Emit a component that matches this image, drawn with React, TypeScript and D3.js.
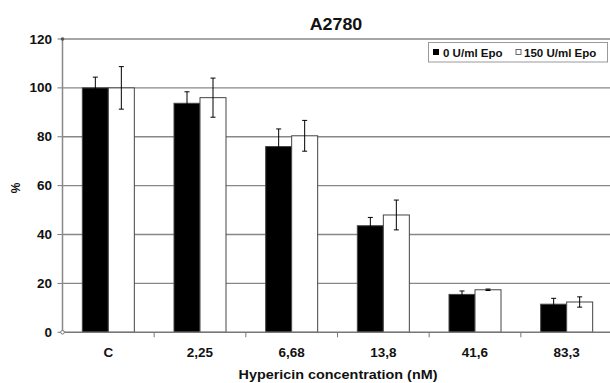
import React from "react";
import * as d3 from "d3";

const categories = ["C", "2,25", "6,68", "13,8", "41,6", "83,3"];
const series = ["0 U/ml Epo", "150 U/ml Epo"];
const meanNoEpo = [100, 93.7, 76, 43.6, 15.5, 11.5];
const errNoEpo = [4.4, 4.7, 7.2, 3.4, 1.4, 2.4];
const meanEpo = [100, 96, 80.4, 48, 17.4, 12.4];
const errEpo = [8.7, 8, 6.3, 6.1, 0.3, 2.1];
const yTicks = [0, 20, 40, 60, 80, 100, 120];

const W = 610;
const H = 383;
const left = 62.5;
const right = 612.5;
const top = 39;
const bottom = 332.3;
const font = "Liberation Sans, Arial, sans-serif";

// text drawn slightly wide, like the rest of the figure
function Label({ x, y, size, anchor = "start", sx = 1.1, rotate = 0, children }: any) {
  return (
    <text
      transform={`translate(${x},${y}) rotate(${rotate}) scale(${sx},1)`}
      textAnchor={anchor}
      fontSize={size}
      fontWeight="bold"
      fill="#111"
    >
      {children}
    </text>
  );
}

export default function App() {
  const x = d3.scaleBand<string>().domain(categories).range([left, right]).paddingInner(0).paddingOuter(0);
  const y = d3.scaleLinear().domain([0, 120]).range([bottom, top]);
  const barW = 26;
  const groups = [
    { name: series[0], mean: meanNoEpo, err: errNoEpo, fill: "#000" },
    { name: series[1], mean: meanEpo, err: errEpo, fill: "#fff" },
  ];

  return (
    <svg width={W} height={H} style={{ position: "absolute", left: 0, top: 0, background: "#fff" }} fontFamily={font}>
      <rect width={W} height={H} fill="#fff" />
      <Label x={336} y={30} size={17} anchor="middle" sx={1.05}>A2780</Label>

      {yTicks.map((t) => (
        <g key={t}>
          {t > 0 && <line x1={left} x2={right} y1={y(t)} y2={y(t)} stroke="#888" strokeWidth={1.4} />}
          <line x1={left - 5} x2={left} y1={y(t)} y2={y(t)} stroke="#777" strokeWidth={1} />
          <Label x={52} y={y(t) + 4.5} size={12.5} anchor="end" sx={1.08}>{t}</Label>
        </g>
      ))}

      {categories.map((c, i) =>
        groups.map((g, k) => {
          const cx = (x(c) as number) + x.bandwidth() / 2;
          const bx = cx - barW + k * barW;
          const v = g.mean[i];
          const e = g.err[i];
          const mid = bx + barW / 2;
          return (
            <g key={c + k}>
              <rect x={bx} y={y(v)} width={barW} height={y(0) - y(v)} fill={g.fill} stroke="#444" strokeWidth={1} />
              <line x1={mid} x2={mid} y1={y(v + e)} y2={y(v - e)} stroke="#000" strokeWidth={1} />
              <line x1={mid - 2.5} x2={mid + 2.5} y1={y(v + e)} y2={y(v + e)} stroke="#000" strokeWidth={1} />
              <line x1={mid - 2.5} x2={mid + 2.5} y1={y(v - e)} y2={y(v - e)} stroke="#000" strokeWidth={1} />
            </g>
          );
        })
      )}

      <line x1={left} x2={left} y1={top} y2={bottom} stroke="#888" strokeWidth={1.5} />
      <line x1={left} x2={right} y1={bottom} y2={bottom} stroke="#777" strokeWidth={1.5} />
      <circle cx={left} cy={top} r={1.8} fill="#555" />
      <circle cx={left} cy={bottom} r={1.8} fill="#fff" stroke="#777" />
      {categories.slice(1).map((c) => (
        <line key={c} x1={x(c) as number} x2={x(c) as number} y1={bottom} y2={bottom + 5} stroke="#777" strokeWidth={1} />
      ))}
      {categories.map((c) => (
        <Label key={c} x={(x(c) as number) + x.bandwidth() / 2} y={356.5} size={12.5} anchor="middle" sx={1.08}>{c}</Label>
      ))}

      <Label x={338} y={379} size={12.5} anchor="middle" sx={1.15}>Hypericin concentration (nM)</Label>
      <Label x={20} y={188} size={12} anchor="middle" rotate={-90} sx={1}>%</Label>

      <g>
        <rect x={428.5} y={42.5} width={179} height={19.5} fill="#fff" stroke="#999" strokeWidth={1} />
        <rect x={433} y={49} width={6} height={6} fill="#000" />
        <Label x={443} y={56.5} size={10.5} sx={1.1}>{series[0]}</Label>
        <rect x={516} y={49.5} width={5} height={5} fill="#fff" stroke="#444" strokeWidth={0.8} />
        <Label x={524} y={56.5} size={10.5} sx={1.1}>{series[1]}</Label>
      </g>
    </svg>
  );
}
